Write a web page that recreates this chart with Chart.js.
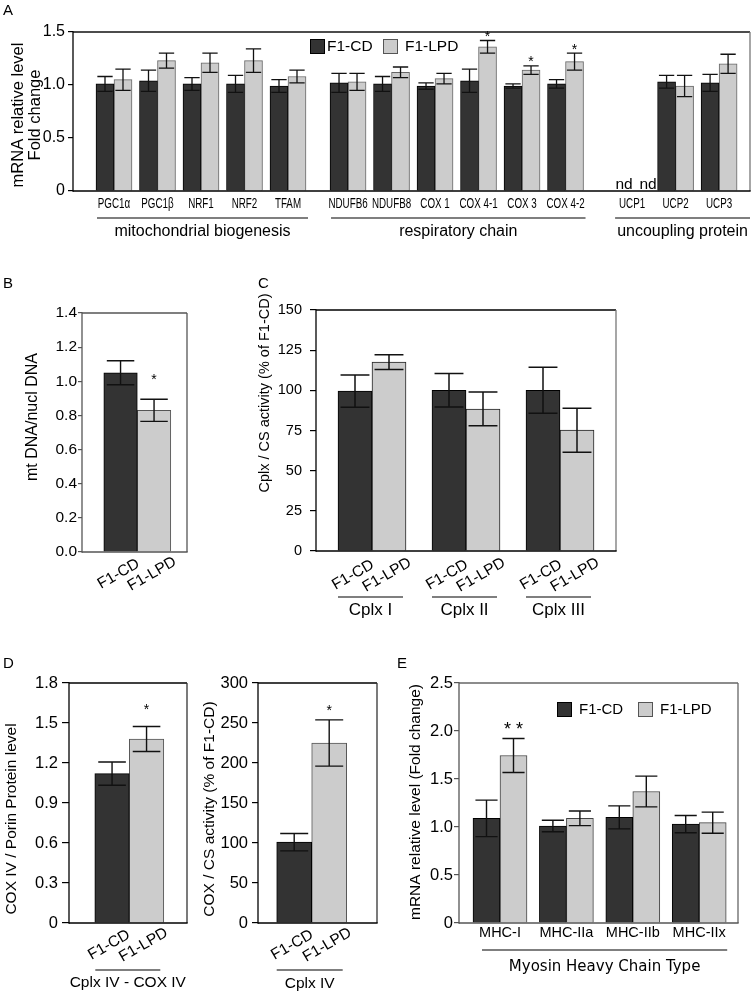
<!DOCTYPE html>
<html><head><meta charset="utf-8">
<script src="https://cdn.jsdelivr.net/npm/chart.js@4.4.1/dist/chart.umd.min.js"></script>
<style>
html,body{margin:0;padding:0;background:#fff;}
#page{position:relative;width:754px;height:995px;overflow:hidden;background:#fff;}
canvas{position:absolute;}
</style></head><body>
<div id="page">
<canvas id="cA" width="754" height="250" style="left:0;top:0"></canvas>
<canvas id="cB" width="200" height="350" style="left:0;top:265px"></canvas>
<canvas id="cC" width="430" height="355" style="left:200px;top:265px"></canvas>
<canvas id="cD1" width="200" height="355" style="left:0;top:640px"></canvas>
<canvas id="cD2" width="200" height="355" style="left:195px;top:640px"></canvas>
<canvas id="cE" width="364" height="355" style="left:390px;top:640px"></canvas>
</div>
<script>
// ---------------- DATA ----------------
const seriesLabels = ['F1-CD', 'F1-LPD'];

// Panel A
const aCategories = ['PGC1α','PGC1β','NRF1','NRF2','TFAM','NDUFB6','NDUFB8','COX 1','COX 4-1','COX 3','COX 4-2','UCP1','UCP2','UCP3'];
const aGroupLabels = ['mitochondrial biogenesis','respiratory chain','uncoupling protein'];
const aGroupIndex = [0,0,0,0,0,1,1,1,1,1,1,2,2,2];
const aCD     = [1.01,1.04,1.01,1.01,0.99,1.02,1.01,0.99,1.04,0.99,1.01,null,1.03,1.02];
const aCDErr  = [0.07,0.10,0.06,0.08,0.06,0.09,0.07,0.03,0.11,0.02,0.04,null,0.06,0.08];
const aLPD    = [1.05,1.23,1.21,1.23,1.08,1.03,1.12,1.06,1.36,1.14,1.22,null,0.99,1.20];
const aLPDErr = [0.10,0.07,0.09,0.11,0.06,0.08,0.05,0.05,0.06,0.04,0.08,null,0.10,0.09];
const aLPDSig = ['','','','','','','','','*','*','*','','',''];
const aYTicks = [0,0.5,1.0,1.5];
const aYTickLabels = ['0','0.5','1.0','1.5'];

// Panel B
const bCategories = [''];
const bCD = [1.05], bCDErr = [0.07];
const bLPD = [0.83], bLPDErr = [0.065], bLPDSig = ['*'];
const bYTicks = [0,0.2,0.4,0.6,0.8,1.0,1.2,1.4];
const bYTickLabels = ['0.0','0.2','0.4','0.6','0.8','1.0','1.2','1.4'];

// Panel C
const cGroups = ['Cplx I','Cplx II','Cplx III'];
const cCD = [99.5,100,100], cCDErr = [10,10.4,14.3];
const cLPD = [117.6,88.4,75.2], cLPDErr = [4.6,10.5,13.7];
const cYTicks = [0,25,50,75,100,125,150];
const cYTickLabels = ['0','25','50','75','100','125','150'];

// Panel D (left)
const d1Groups = ['Cplx IV - COX IV'];
const d1CD = [1.12], d1CDErr = [0.087];
const d1LPD = [1.38], d1LPDErr = [0.094], d1LPDSig = ['*'];
const d1YTicks = [0,0.3,0.6,0.9,1.2,1.5,1.8];
const d1YTickLabels = ['0','0.3','0.6','0.9','1.2','1.5','1.8'];

// Panel D (right)
const d2Groups = ['Cplx IV'];
const d2CD = [101], d2CDErr = [10.8];
const d2LPD = [225], d2LPDErr = [28.9], d2LPDSig = ['*'];
const d2YTicks = [0,50,100,150,200,250,300];
const d2YTickLabels = ['0','50','100','150','200','250','300'];

// Panel E
const eCategories = ['MHC-I','MHC-IIa','MHC-IIb','MHC-IIx'];
const eGroupLabels = ['Myosin Heavy Chain Type'];
const eCD = [1.09,1.01,1.10,1.03], eCDErr = [0.19,0.06,0.12,0.09];
const eLPD = [1.745,1.09,1.37,1.045], eLPDErr = [0.177,0.076,0.16,0.11];
const eLPDSig = ['* *','','',''];
const eYTicks = [0,0.5,1.0,1.5,2.0,2.5];
const eYTickLabels = ['0','0.5','1.0','1.5','2.0','2.5'];

// ---------------- STYLE / LAYOUT ----------------
const FONT = '"Liberation Sans", Arial, Helvetica, sans-serif';
const DEJAVU = '"DejaVu Sans", Verdana, sans-serif';
const DARK = '#333333', LIGHT = '#cccccc';
Chart.defaults.font.family = FONT;
Chart.defaults.color = '#000';

function txt(ctx, s, x, y, o) {
  ctx.save();
  ctx.font = (o.weight || 'normal') + ' ' + o.size + 'px ' + (o.family || FONT);
  ctx.fillStyle = o.color || '#000';
  ctx.textAlign = o.align || 'center';
  ctx.textBaseline = o.base || 'middle';
  ctx.translate(x, y);
  if (o.rot) ctx.rotate(o.rot);
  if (o.sx) ctx.scale(o.sx, 1);
  ctx.fillText(s, 0, 0);
  ctx.restore();
}
function seg(ctx, x1, y1, x2, y2, color, w) {
  ctx.save(); ctx.strokeStyle = color; ctx.lineWidth = w;
  ctx.beginPath(); ctx.moveTo(x1, y1); ctx.lineTo(x2, y2); ctx.stroke(); ctx.restore();
}

function makeDecor(P) {
  const X = v => v - P.ox, Y = v => v - P.oy;
  const barX = (xs, i, k) => xs.getPixelForValue(P.pos[i]) + (k - 0.5) * P.barW;
  return {
    id: 'decor_' + P.canvas,
    afterDatasetsDraw(chart) {
      const ctx = chart.ctx, xs = chart.scales.x, ys = chart.scales.y;
      P.series.forEach((s, k) => {
        s.values.forEach((v, i) => {
          if (v == null) return;
          const x = barX(xs, i, k), e = s.errors[i];
          const yT = ys.getPixelForValue(v + e), yB = ys.getPixelForValue(v - e);
          const hw = P.barW * P.capRatio / 2;
          ctx.save(); ctx.strokeStyle = P.errColor; ctx.lineWidth = P.errLW;
          ctx.beginPath();
          ctx.moveTo(x, yT); ctx.lineTo(x, yB);
          ctx.moveTo(x - hw, yT); ctx.lineTo(x + hw, yT);
          ctx.moveTo(x - hw, yB); ctx.lineTo(x + hw, yB);
          ctx.stroke(); ctx.restore();
          const sg = s.sig && s.sig[i];
          if (sg) txt(ctx, sg, x, yT - P.star.gap + 0.57 * P.star.size, {size: P.star.size, base: 'alphabetic'});
        });
      });
    },
    afterDraw(chart) {
      const ctx = chart.ctx, ca = chart.chartArea, xs = chart.scales.x;
      const f = P.frame;
      seg(ctx, ca.left, ca.top, ca.right, ca.top, f.top, f.w);
      seg(ctx, ca.right, ca.top, ca.right, ca.bottom, f.right, f.w);
      seg(ctx, ca.left, ca.bottom, ca.right + f.w / 2, ca.bottom, f.bottom, f.w);
      seg(ctx, ca.left, ca.top - f.w / 2, ca.left, ca.bottom + f.w / 2, f.left, f.w);
      // not detected
      P.series.forEach((s, k) => s.values.forEach((v, i) => {
        if (v == null) txt(ctx, 'nd', barX(xs, i, k) + (k ? 7 : 1), ca.bottom - 2, {size: 15.5, base: 'alphabetic'});
      }));
      if (P.catLabels) {
        P.categories.forEach((c, i) => txt(ctx, c, xs.getPixelForValue(P.pos[i]), Y(P.catLabels.y),
          {size: P.catLabels.size, sx: P.catLabels.sx, family: P.catLabels.family}));
      }
      if (P.rotLabels) {
        P.pos.forEach((p, i) => P.series.forEach((s, k) => {
          txt(ctx, s.label, barX(xs, i, k) + P.rotLabels.dx, ca.bottom + P.rotLabels.dy,
            {size: P.rotLabels.size, rot: -Math.PI / 6});
        }));
      }
      if (P.groups) {
        const G = P.groups;
        G.labels.forEach((g, gi) => {
          const idx = G.index.map((v, i) => v === gi ? i : -1).filter(i => i >= 0);
          const x1 = xs.getPixelForValue(P.pos[idx[0]]) + G.ext[0];
          let x2 = xs.getPixelForValue(P.pos[idx[idx.length - 1]]) + G.ext[1];
          if (G.lastToRight && gi === G.labels.length - 1) x2 = ca.right;
          seg(ctx, x1, Y(G.lineY), x2, Y(G.lineY), '#000', 1.2);
          txt(ctx, g, (x1 + x2) / 2, Y(G.textY), {size: G.size, family: G.family});
        });
      }
      if (P.legend) {
        P.legend.items.forEach((it, k) => {
          ctx.save();
          ctx.fillStyle = k ? LIGHT : DARK;
          ctx.strokeStyle = k ? '#555' : '#000';
          ctx.lineWidth = 1;
          ctx.fillRect(X(it.bx), Y(it.by), 15, 15);
          ctx.strokeRect(X(it.bx) + 0.5, Y(it.by) + 0.5, 14, 14);
          ctx.restore();
          txt(ctx, P.series[k].label, X(it.tx), Y(it.by) + 8, {size: P.legend.size, align: 'left'});
        });
      }
      (P.yTitle || []).forEach(t => txt(ctx, t.t, X(t.x), Y(t.y), {size: t.size, rot: -Math.PI / 2}));
      if (P.letter) txt(ctx, P.letter.t, X(P.letter.x), Y(P.letter.y), {size: P.letter.size, align: 'left', base: 'alphabetic'});
    }
  };
}

function buildPanel(P) {
  const cv = document.getElementById(P.canvas);
  const W = cv.width, H = cv.height, pl = P.plot;
  const xMin = P.pos[0] - (P.firstCenter - pl.l) / P.step;
  const xMax = P.pos[0] + (pl.r - P.firstCenter) / P.step;
  return new Chart(cv, {
    type: 'bar',
    data: {
      datasets: P.series.map((s, k) => ({
        label: s.label,
        data: P.pos.map((p, i) => ({x: p, y: s.values[i]})),
        backgroundColor: k ? LIGHT : DARK,
        borderColor: k ? P.lightBorder : '#000',
        borderWidth: 1,
        barThickness: P.barW
      }))
    },
    options: {
      responsive: false, animation: false, events: [],
      layout: {padding: {left: 0, top: pl.t - P.oy, right: W - (pl.r - P.ox), bottom: 0}},
      plugins: {legend: {display: false}, tooltip: {enabled: false}},
      scales: {
        x: {type: 'linear', min: xMin, max: xMax, offset: false,
            ticks: {display: false}, grid: {display: false}, border: {display: false},
            afterFit(s) { s.height = H - (pl.b - P.oy); }},
        y: {type: 'linear', min: P.yTicks[0], max: P.yTicks[P.yTicks.length - 1],
            afterBuildTicks(s) { s.ticks = P.yTicks.map(v => ({value: v})); },
            ticks: {callback: (v, i) => P.yTickLabels[i], font: {size: P.tick.size}, color: '#000', padding: P.tick.pad, autoSkip: false},
            grid: {drawOnChartArea: false, drawTicks: true, tickLength: P.tick.len, color: P.tick.color, lineWidth: 1.2},
            border: {display: false},
            afterFit(s) { s.width = pl.l - P.ox; }}
      }
    },
    plugins: [makeDecor(P)]
  });
}

// positions of categories (layout only)
const aGapUnits = [0, 0.38, 0.91];
const aPos = aCategories.map((c, i) => i + aGapUnits[aGroupIndex[i]]);
const idxPos = arr => arr.map((c, i) => i);

buildPanel({
  canvas: 'cA', ox: 0, oy: 0, plot: {l: 73, t: 32, r: 750, b: 191},
  pos: aPos, firstCenter: 114, step: 43.5, barW: 18, capRatio: 0.85, errLW: 1.3, errColor: '#111',
  categories: aCategories,
  series: [{label: seriesLabels[0], values: aCD, errors: aCDErr},
           {label: seriesLabels[1], values: aLPD, errors: aLPDErr, sig: aLPDSig}],
  yTicks: aYTicks, yTickLabels: aYTickLabels, tick: {size: 16, len: 5, pad: 3, color: '#000'},
  frame: {w: 1.3, top: '#111', right: '#777', bottom: '#000', left: '#000'},
  lightBorder: '#666',
  catLabels: {y: 204.5, size: 14, sx: 0.7},
  groups: {labels: aGroupLabels, index: aGroupIndex, lineY: 218, textY: 232, size: 16, ext: [-17, 20], lastToRight: true},
  legend: {size: 15.5, items: [{bx: 310, by: 39, tx: 327}, {bx: 383, by: 39, tx: 405}]},
  yTitle: [{t: 'mRNA relative level', x: 18, y: 115, size: 16.5}, {t: 'Fold change', x: 35, y: 115, size: 16.5}],
  letter: {t: 'A', x: 3, y: 15, size: 15},
  star: {size: 14, gap: 7.5}
});

buildPanel({
  canvas: 'cB', ox: 0, oy: 265, plot: {l: 82, t: 313, r: 187, b: 552},
  pos: idxPos(bCategories), firstCenter: 137.3, step: 100, barW: 33.5, capRatio: 0.82, errLW: 1.4, errColor: '#111',
  categories: bCategories,
  series: [{label: seriesLabels[0], values: bCD, errors: bCDErr},
           {label: seriesLabels[1], values: bLPD, errors: bLPDErr, sig: bLPDSig}],
  yTicks: bYTicks, yTickLabels: bYTickLabels, tick: {size: 15.5, len: 4, pad: 1, color: '#555'},
  frame: {w: 1.3, top: '#555', right: '#555', bottom: '#555', left: '#555'},
  lightBorder: '#555',
  rotLabels: {dx: -2, dy: 22, size: 15.5},
  yTitle: [{t: 'mt DNA/nucl DNA', x: 33, y: 417, size: 16}],
  letter: {t: 'B', x: 3, y: 288, size: 15},
  star: {size: 14, gap: 23}
});

buildPanel({
  canvas: 'cC', ox: 200, oy: 265, plot: {l: 316, t: 310, r: 616, b: 551},
  pos: idxPos(cGroups), firstCenter: 372, step: 94, barW: 34, capRatio: 0.85, errLW: 1.5, errColor: '#111',
  categories: cGroups,
  series: [{label: seriesLabels[0], values: cCD, errors: cCDErr},
           {label: seriesLabels[1], values: cLPD, errors: cLPDErr}],
  yTicks: cYTicks, yTickLabels: cYTickLabels, tick: {size: 14.5, len: 6, pad: 8, color: '#000'},
  frame: {w: 1.3, top: '#000', right: '#777', bottom: '#000', left: '#000'},
  lightBorder: '#222',
  rotLabels: {dx: -2, dy: 24, size: 15.5},
  groups: {labels: cGroups, index: [0, 1, 2], lineY: 597, textY: 610, size: 17, ext: [-34, 31]},
  yTitle: [{t: 'Cplx / CS activity (% of F1-CD)', x: 265, y: 393, size: 14.5}],
  letter: {t: 'C', x: 258, y: 288, size: 15},
  star: {size: 14, gap: 10}
});

buildPanel({
  canvas: 'cD1', ox: 0, oy: 640, plot: {l: 69, t: 683, r: 187, b: 923},
  pos: idxPos(d1Groups), firstCenter: 129.3, step: 100, barW: 34.5, capRatio: 0.8, errLW: 1.4, errColor: '#111',
  categories: d1Groups,
  series: [{label: seriesLabels[0], values: d1CD, errors: d1CDErr},
           {label: seriesLabels[1], values: d1LPD, errors: d1LPDErr, sig: d1LPDSig}],
  yTicks: d1YTicks, yTickLabels: d1YTickLabels, tick: {size: 16.5, len: 7, pad: 4, color: '#000'},
  frame: {w: 1.3, top: '#000', right: '#333', bottom: '#000', left: '#000'},
  lightBorder: '#555',
  rotLabels: {dx: -3, dy: 22, size: 15.5},
  groups: {labels: d1Groups, index: [0], lineY: 970, textY: 983, size: 15.5, ext: [-34, 31]},
  yTitle: [{t: 'COX IV / Porin Protein level', x: 12, y: 819, size: 15.5}],
  letter: {t: 'D', x: 3, y: 668, size: 15},
  star: {size: 14, gap: 20}
});

buildPanel({
  canvas: 'cD2', ox: 195, oy: 640, plot: {l: 258, t: 683, r: 377, b: 923},
  pos: idxPos(d2Groups), firstCenter: 311.7, step: 100, barW: 35, capRatio: 0.8, errLW: 1.4, errColor: '#111',
  categories: d2Groups,
  series: [{label: seriesLabels[0], values: d2CD, errors: d2CDErr},
           {label: seriesLabels[1], values: d2LPD, errors: d2LPDErr, sig: d2LPDSig}],
  yTicks: d2YTicks, yTickLabels: d2YTickLabels, tick: {size: 16.5, len: 6, pad: 4, color: '#000'},
  frame: {w: 1.3, top: '#000', right: '#333', bottom: '#000', left: '#000'},
  lightBorder: '#555',
  rotLabels: {dx: -2, dy: 22, size: 15.5},
  groups: {labels: d2Groups, index: [0], lineY: 970, textY: 984, size: 15.5, ext: [-35, 31]},
  yTitle: [{t: 'COX / CS activity (% of F1-CD)', x: 210, y: 809, size: 15.5}],
  star: {size: 14, gap: 13}
});

buildPanel({
  canvas: 'cE', ox: 390, oy: 640, plot: {l: 459, t: 683, r: 738, b: 923},
  pos: idxPos(eCategories), firstCenter: 500, step: 66.4, barW: 27, capRatio: 0.82, errLW: 1.4, errColor: '#111',
  categories: eCategories,
  series: [{label: seriesLabels[0], values: eCD, errors: eCDErr},
           {label: seriesLabels[1], values: eLPD, errors: eLPDErr, sig: eLPDSig}],
  yTicks: eYTicks, yTickLabels: eYTickLabels, tick: {size: 16.5, len: 5, pad: 1, color: '#555'},
  frame: {w: 1.3, top: '#666', right: '#666', bottom: '#555', left: '#555'},
  lightBorder: '#444',
  catLabels: {y: 933, size: 14.5, sx: 1},
  groups: {labels: eGroupLabels, index: [0, 0, 0, 0], lineY: 950, textY: 967, size: 15, ext: [-18, 28], family: DEJAVU},
  legend: {size: 15, items: [{bx: 557, by: 702, tx: 579}, {bx: 638, by: 702, tx: 660}]},
  yTitle: [{t: 'mRNA relative level (Fold change)', x: 416, y: 802, size: 15.5}],
  letter: {t: 'E', x: 397, y: 668, size: 15},
  star: {size: 18, gap: 14}
});
</script>
</body></html>
